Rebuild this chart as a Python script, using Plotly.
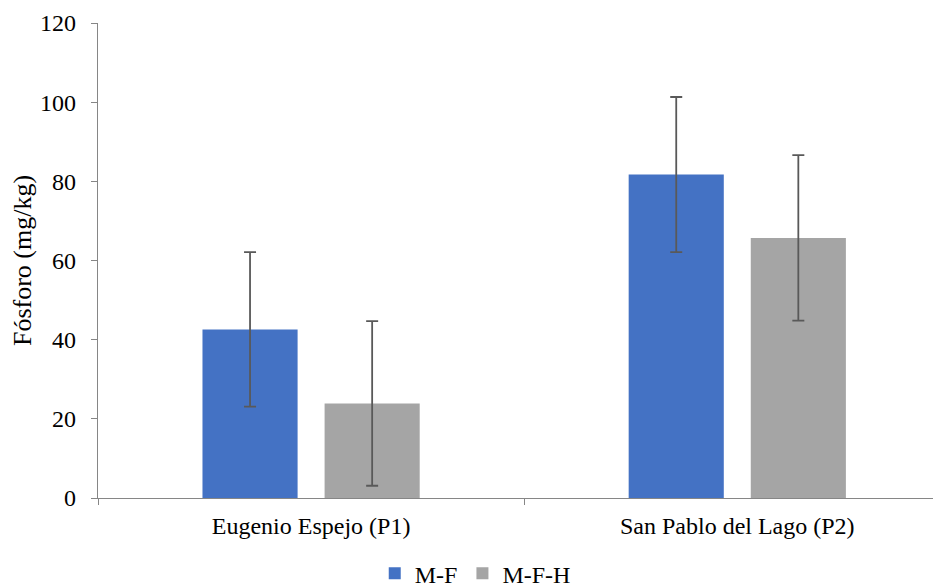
import plotly.graph_objects as go

categories = ["Eugenio Espejo (P1)", "San Pablo del Lago (P2)"]
series_names = ["M-F", "M-F-H"]
mf_values = [42.6, 81.7]
mf_errors = [19.5, 19.6]
mfh_values = [23.9, 65.7]
mfh_errors = [20.8, 20.9]
y_ticks = [0, 20, 40, 60, 80, 100, 120]

FONT = "Liberation Serif"
ERR = dict(type="data", visible=True, color="#595959", thickness=1.8, width=6)

fig = go.Figure()
fig.add_trace(go.Bar(name=series_names[0], x=categories, y=mf_values,
                     marker=dict(color="#4472C4", line=dict(width=0)),
                     error_y=dict(array=mf_errors, **ERR)))
fig.add_trace(go.Bar(name=series_names[1], x=categories, y=mfh_values,
                     marker=dict(color="#A5A5A5", line=dict(width=0)),
                     error_y=dict(array=mfh_errors, **ERR)))

fig.update_layout(
    width=941, height=587,
    margin=dict(l=90, r=8, t=15, b=97, autoexpand=False),
    paper_bgcolor="white", plot_bgcolor="white",
    font=dict(family=FONT, size=24, color="black"),
    barmode="group", bargap=0.427, bargroupgap=0.221,
    showlegend=True,
    legend=dict(orientation="h", x=0.4475, xanchor="center", y=-0.159, yanchor="middle",
                font=dict(family=FONT, size=24, color="black"),
                itemwidth=30, traceorder="normal"),
)
fig.update_xaxes(
    range=[-0.5, 1.478], showline=True, linecolor="#868686", linewidth=1.3,
    ticks="outside", tickson="boundaries", ticklen=6, tickcolor="#868686", tickwidth=1.3,
    showgrid=False, zeroline=False, automargin=False, ticklabelstandoff=6,
    tickfont=dict(family=FONT, size=24, color="black"),
)
fig.update_yaxes(
    range=[0, 120], tickvals=y_ticks, showline=True, linecolor="#868686", linewidth=1.3,
    ticks="outside", ticklen=6, tickcolor="#868686", tickwidth=1.3,
    showgrid=False, zeroline=False, automargin=False, ticklabelstandoff=10,
    tickfont=dict(family=FONT, size=24, color="black"),
    title=dict(text="Fósforo (mg/kg)", font=dict(family=FONT, size=26, color="black"), standoff=6),
)

fig.write_html("out.html")
